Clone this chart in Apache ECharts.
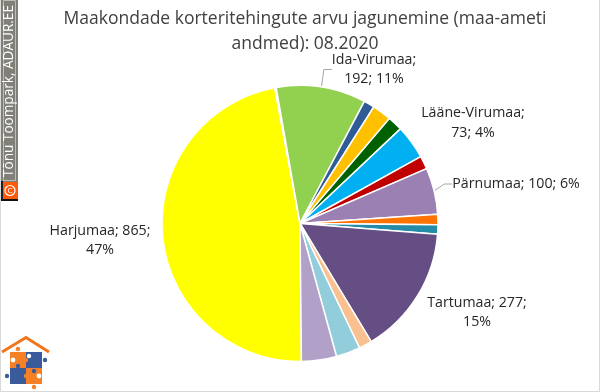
<!DOCTYPE html>
<html><head><meta charset="utf-8">
<style>html,body{margin:0;padding:0;background:#fff}#c{width:600px;height:392px}</style>
<script src="https://cdn.jsdelivr.net/npm/echarts@6/dist/echarts.min.js"></script>
</head><body><div id="c"></div>
<script>
const categories = ['Harjumaa','Hiiumaa','Ida-Virumaa','Jõgevamaa','Järvamaa','Läänemaa','Lääne-Virumaa','Põlvamaa','Pärnumaa','Raplamaa','Saaremaa','Tartumaa','Valgamaa','Viljandimaa','Võrumaa'];
const values = [865,3,192,23,41,32,73,28,100,22,20,277,28,52,75];
const colors = ['#FFFF00','#8C9AC8','#92D050','#2F5C97','#FFC000','#006100','#00B0F0','#C00000','#9B80B4','#FF7300','#248CA8','#654E84','#FAC090','#92CDDC','#B1A0C7'];
const labelled = {
  'Harjumaa':{x:100,y:240.5,text:'Harjumaa; 865;\n47%',line:false},
  'Ida-Virumaa':{x:374,y:69.5,text:'Ida-Virumaa;\n192; 11%',line:true},
  'Lääne-Virumaa':{x:473,y:123,text:'Lääne-Virumaa;\n73; 4%',line:false},
  'Pärnumaa':{x:516,y:184,text:'Pärnumaa; 100; 6%',line:true},
  'Tartumaa':{x:477,y:312.5,text:'Tartumaa; 277;\n15%',line:false}
};
const FONT = '"Open Sans","Noto Sans",sans-serif';
const chart = echarts.init(document.getElementById('c'),null,{renderer:'canvas'});
const data = categories.map((n,i)=>{
  const l = labelled[n];
  return {name:n,value:values[i],itemStyle:{color:colors[i]},
    label:{show:!!l,formatter:l?l.text:''},
    labelLine:{show:!!(l&&l.line),lineStyle:{color:'#A6A6A6',width:1}}};
});
const puzzle = [[10,352,'#F58026'],[26,352,'#3A5B9B'],[10,368,'#3A5B9B'],[26,368,'#F58026']];
const knobs = [[18,349,2.2,'#F58026'],[45,360,2.2,'#3A5B9B'],[18,366,2.2,'#3A5B9B'],[34,371,2.2,'#3A5B9B'],[7,376,2.2,'#3A5B9B'],[34,387,2.2,'#F58026'],[13,360,2.4,'#fff'],[29,356,2.2,'#fff'],[39,376,2.4,'#fff'],[26,376,2.2,'#F58026'],[26,360,2.2,'#F58026']];
chart.setOption({
  animation:false,
  backgroundColor:'#fff',
  title:{text:'Maakondade korteritehingute arvu jagunemine (maa-ameti\nandmed): 08.2020',left:300,top:2,textAlign:'center',
    textStyle:{fontFamily:FONT,fontSize:17.5,fontWeight:'normal',color:'#404040',lineHeight:25}},
  series:[{
    type:'pie',center:[300,223.5],radius:[0,138],startAngle:-89.4,clockwise:true,
    avoidLabelOverlap:false,
    itemStyle:{borderColor:'#fff',borderWidth:1.5},
    label:{position:'outside',fontFamily:FONT,fontSize:14.2,color:'#262626',lineHeight:19.5,align:'center',verticalAlign:'middle'},
    labelLine:{length:8,length2:8},
    labelLayout:p=>{
      const l = labelled[categories[p.dataIndex]];
      return l?{x:l.x,y:l.y,align:'center',verticalAlign:'middle',hideOverlap:false}:{};
    },
    emphasis:{disabled:true},
    data
  }],
  graphic:[
    {type:'rect',shape:{x:0,y:0,width:1,height:392},style:{fill:'#D9D9D9'}},
    {type:'rect',shape:{x:0,y:391,width:600,height:1},style:{fill:'#D9D9D9'}},
    {type:'rect',shape:{x:599,y:0,width:1,height:392},style:{fill:'#D9D9D9'}},
    {type:'rect',shape:{x:1,y:0,width:17,height:200},style:{fill:'#808078'}},
    {type:'rect',shape:{x:3.5,y:0.5,width:12,height:180},style:{fill:'#808078',stroke:'#BDBDB5',lineWidth:1}},
    {type:'rect',shape:{x:1,y:181,width:2,height:19},style:{fill:'#222'}},
    {type:'rect',shape:{x:3,y:182,width:14,height:17},style:{fill:'#FF5A0A'}},
    {type:'rect',shape:{x:1,y:199,width:17,height:2},style:{fill:'#111'}},
    {type:'circle',shape:{cx:10,cy:190.5,r:5},style:{fill:'none',stroke:'#fff',lineWidth:1.2}},
    {type:'text',x:10,y:190.5,style:{text:'C',font:'8px '+FONT,fill:'#fff',align:'center',verticalAlign:'middle'}},
    {type:'text',x:9.5,y:91,rotation:Math.PI/2,style:{text:'Tõnu Toompark, ADAUR.EE',font:'13.6px '+FONT,fill:'#fff',align:'center',verticalAlign:'middle'}},
    {type:'polyline',shape:{points:[[2,352],[26,337.5],[49,352]]},style:{fill:'none',stroke:'#F0761E',lineWidth:3}},
    ...puzzle.map(p=>({type:'rect',shape:{x:p[0],y:p[1],width:16,height:16},style:{fill:p[2]}})),
    ...knobs.map(k=>({type:'circle',shape:{cx:k[0],cy:k[1],r:k[2]},style:{fill:k[3]}}))
  ]
});
</script></body></html>
